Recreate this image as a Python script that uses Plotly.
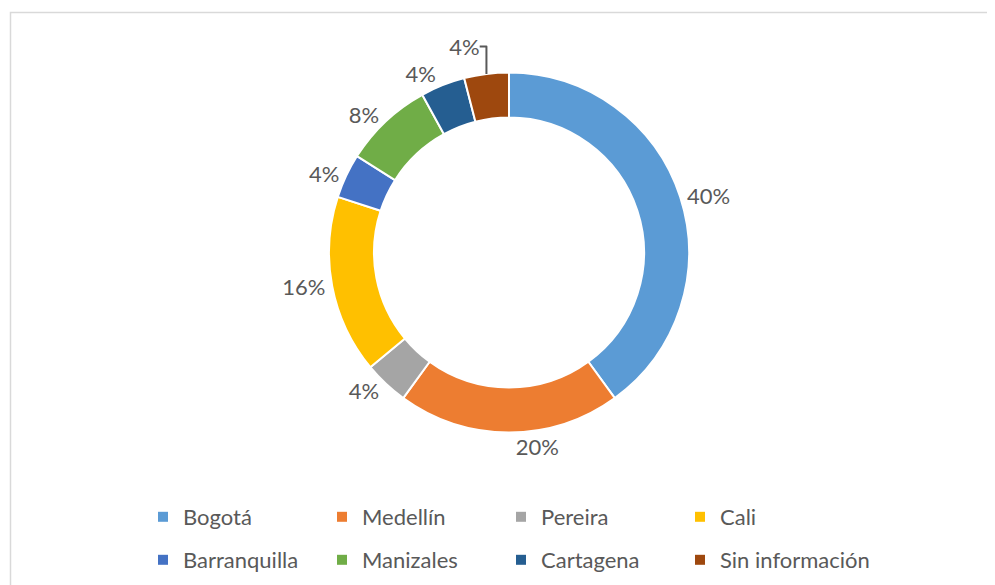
import plotly.graph_objects as go

categories = ["Bogotá", "Medellín", "Pereira", "Cali", "Barranquilla", "Manizales", "Cartagena", "Sin información"]
values = [40, 20, 4, 16, 4, 8, 4, 4]
colors = ["#5B9BD5", "#ED7D31", "#A5A5A5", "#FFC000", "#4472C4", "#70AD47", "#255E91", "#9E480E"]

W, H = 995, 585
OFF = 8  # page body margin offset
cx, cy, r = 509 - OFF, 252.5 - OFF, 180
FONT = "Lato"
TXT = "#595959"
COL_W = 179  # legend column pitch
LEG_X = 143

fig = go.Figure()
fig.add_trace(go.Pie(
    labels=categories,
    values=values,
    sort=False,
    direction="clockwise",
    rotation=0,
    hole=0.75,
    marker=dict(colors=colors, line=dict(color="white", width=2)),
    texttemplate="%{percent:.0%}",
    textposition="outside",
    outsidetextfont=dict(size=22, color=TXT, family=FONT),
    domain=dict(x=[(cx - r) / W, (cx + r) / W], y=[1 - (cy + r) / H, 1 - (cy - r) / H]),
    showlegend=False,
    hoverinfo="label+percent",
))

# legend entries (two rows of four); last entry gets its own legend so it is not clipped
for i, (name, col) in enumerate(zip(categories, colors)):
    leg = "legend" if i < 4 else ("legend2" if i < 7 else "legend3")
    fig.add_trace(go.Scatter(
        x=[None], y=[None], mode="markers", name=name,
        marker=dict(symbol="square", size=10, color=col),
        legend=leg,
        showlegend=True, hoverinfo="skip",
    ))

fig.add_shape(type="rect", xref="paper", yref="paper",
              x0=(10.5 - OFF) / W, y0=-0.05, x1=1.05, y1=1 - (12.5 - OFF) / H,
              line=dict(color="#D9D9D9", width=1.5), fillcolor="rgba(0,0,0,0)", layer="below")

leg_common = dict(
    orientation="h",
    xanchor="left",
    yanchor="middle",
    entrywidthmode="pixels",
    font=dict(size=22, color=TXT, family=FONT),
    itemwidth=30,
    bgcolor="rgba(0,0,0,0)",
    traceorder="normal",
)

fig.update_layout(
    width=W, height=H,
    margin=dict(l=0, r=0, t=0, b=0, autoexpand=False),
    paper_bgcolor="white",
    plot_bgcolor="white",
    font=dict(family=FONT, size=22, color=TXT),
    xaxis=dict(visible=False),
    yaxis=dict(visible=False),
    legend=dict(x=(LEG_X - OFF) / W, y=1 - (517 - OFF) / H, entrywidth=COL_W - 45, **leg_common),
    legend2=dict(x=(LEG_X - OFF) / W, y=1 - (560 - OFF) / H, entrywidth=COL_W - 45, **leg_common),
    legend3=dict(x=(LEG_X + 3 * COL_W - OFF) / W, y=1 - (560 - OFF) / H, entrywidth=200, **leg_common),
)

fig.write_html("out.html")
